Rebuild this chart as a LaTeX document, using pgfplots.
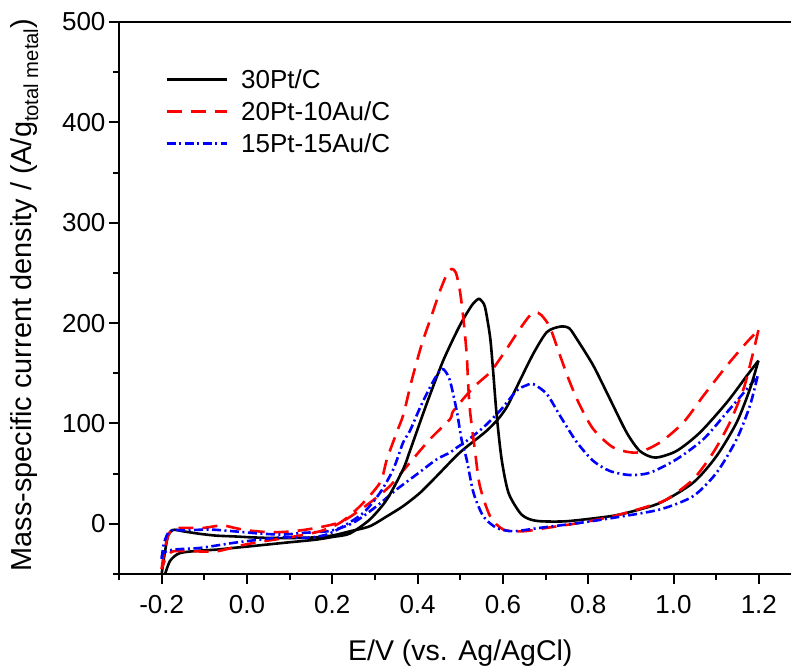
\documentclass[border=0pt]{standalone}
\usepackage{pgfplots}
\pgfplotsset{compat=1.18}
\usepackage{fontspec}
\setmainfont{Liberation Sans}
\begin{document}
\begin{tikzpicture}
\path[use as bounding box] (-119pt,-91pt) rectangle (672pt,574pt);
\begin{axis}[
  scale only axis,
  width=682.5pt, height=552pt,
  xmin=-0.3, xmax=1.3, ymin=-50, ymax=500,
  enlargelimits=false,
  axis line style={line width=2pt},
  tick align=outside,
  tick pos=left,
  major tick length=10pt, minor tick length=6pt,
  every tick/.style={line width=2pt, black},
  xtick={-0.2,0,0.2,0.4,0.6,0.8,1.0,1.2},
  xticklabels={-0.2,0.0,0.2,0.4,0.6,0.8,1.0,1.2},
  minor xtick={-0.3,-0.1,0.1,0.3,0.5,0.7,0.9,1.1,1.3},
  ytick={0,100,200,300,400,500},
  minor ytick={-50,50,150,250,350,450},
  /pgf/number format/assume math mode=true,
  ticklabel style={font=\fontsize{26}{31}\selectfont},
  xticklabel style={yshift=-8pt},
  every axis x label/.style={at={(axis description cs:0.5,0)}, anchor=base, yshift=-86pt, font=\fontsize{28.5}{34}\selectfont},
  every axis y label/.style={at={(axis description cs:0,0.5)}, rotate=90, anchor=base, yshift=87pt, xshift=3pt, font=\fontsize{28.9}{34}\selectfont},
  xlabel={E/V (vs. Ag/AgCl)},
  ylabel={Mass-specific current density / (A/g\textsubscript{total metal})},
  legend style={draw=none, fill=none, at={(axis description cs:0.0674,0.915)}, anchor=north west,
    font=\fontsize{26}{31}\selectfont, inner sep=0pt, column sep=13pt, row sep=8pt,
    nodes={inner sep=0pt, text height=19pt, text depth=5pt, anchor=base west}},
  legend cell align=left,
  legend image code/.code={\path[draw=none] (0pt,0pt) -- (60pt,0pt); \draw[#1] (0pt,9pt) -- (60pt,9pt);},
  legend image post style={line width=3pt},
  every axis plot/.append style={line width=2.6pt, line join=round, smooth, tension=0.45},
]
\addplot[black, solid] coordinates {
(-0.2,-50) (-0.193,-30) (-0.185,-12) (-0.173,-6) (-0.149,-7.5) (-0.11,-10) (-0.071,-11.8) (-0.032,-12.5) (0.007,-13.4) (0.046,-14) (0.085,-14.2) (0.124,-14) (0.163,-13.4) (0.202,-11.5) (0.241,-7.5) (0.288,-2.4) (0.33,8) (0.366,17.6) (0.406,31) (0.445,47.6) (0.499,71) (0.56,92) (0.59,105) (0.61,117) (0.632,136) (0.671,169.3) (0.703,191) (0.734,196.5) (0.755,195) (0.773,184.3) (0.812,157.6) (0.851,124.3) (0.890,91) (0.921,72.6) (0.957,66) (1.007,72.6) (1.062,91) (1.125,121) (1.172,147.6) (1.199,162.6)
};
\addlegendentry{30Pt/C}
\addplot[red, dash pattern=on 15pt off 9pt] coordinates {
(-0.2,-45) (-0.195,-30) (-0.185,-12) (-0.173,-5) (-0.14,-4) (-0.1,-4) (-0.059,-1.5) (-0.03,-4) (0.0,-6.4) (0.054,-8.4) (0.109,-7.4) (0.171,-3.4) (0.226,3) (0.288,21) (0.335,37.6) (0.382,61) (0.429,84.3) (0.476,104.3) (0.484,112.6) (0.531,136) (0.570,151) (0.601,169.3) (0.632,189.3) (0.66,206) (0.675,211) (0.69,208) (0.71,196) (0.734,167.6) (0.757,141) (0.781,117.6) (0.812,94.3) (0.859,76) (0.914,71) (0.968,81) (1.023,101) (1.07,127.6) (1.125,157.6) (1.172,181) (1.199,193)
};
\addlegendentry{20Pt-10Au/C}
\addplot[blue, dash pattern=on 9pt off 3.5pt on 2pt off 3.5pt] coordinates {
(-0.2,-35) (-0.195,-20) (-0.185,-9) (-0.173,-6) (-0.149,-6.5) (-0.087,-5.7) (-0.032,-7.4) (0.030,-9.7) (0.085,-10.7) (0.132,-9) (0.195,-7) (0.249,1) (0.304,17.6) (0.351,34.3) (0.398,49.3) (0.445,64.3) (0.476,71) (0.492,76) (0.515,82.6) (0.554,96) (0.593,112.6) (0.632,132.6) (0.655,138) (0.671,139.3) (0.703,129.3) (0.734,107.6) (0.773,81.5) (0.812,62.6) (0.851,52.6) (0.898,48.6) (0.945,51) (1.007,64.3) (1.070,84.3) (1.125,111) (1.172,134.3) (1.197,147)
};
\addlegendentry{15Pt-15Au/C}
\addplot[black, solid, forget plot] coordinates {
(1.199,162.6) (1.179,134.3) (1.148,101) (1.101,67.6) (1.046,41) (0.969,21) (0.9,12) (0.852,7.6) (0.75,2.6) (0.687,2.6) (0.66,5) (0.640,11) (0.613,31) (0.597,64.3) (0.585,110) (0.577,152.6) (0.570,186) (0.558,216) (0.548,223) (0.542,224) (0.527,217.6) (0.499,197.6) (0.460,162.6) (0.421,119.3) (0.382,72.6) (0.366,54.3) (0.328,24.3) (0.288,4.3) (0.241,-9.7) (0.202,-13) (0.163,-15.7) (0.124,-17.4) (0.085,-19) (0.046,-20.7) (0.007,-22.4) (-0.032,-24) (-0.071,-25.7) (-0.11,-26.7) (-0.149,-28.4) (-0.165,-30.7) (-0.181,-37.4) (-0.192,-50)
};
\addplot[red, dash pattern=on 15pt off 9pt, forget plot] coordinates {
(1.199,193) (1.183,164.3) (1.164,134.3) (1.132,101) (1.093,71) (1.046,44.3) (0.984,24.3) (0.937,17) (0.859,7.6) (0.781,1) (0.703,-4) (0.648,-7.4) (0.601,-5.7) (0.570,7.6) (0.546,37.6) (0.535,71) (0.523,112) (0.519,136) (0.515,169.3) (0.507,206) (0.499,232.6) (0.49,250) (0.480,254) (0.468,248) (0.453,232.6) (0.433,207.6) (0.410,179.3) (0.386,142.6) (0.367,109.3) (0.351,91) (0.328,64.3) (0.312,41) (0.265,17.6) (0.218,1) (0.171,-7.4) (0.101,-13.4) (0.038,-17.4) (-0.016,-21.7) (-0.071,-27.4) (-0.126,-27.4) (-0.173,-27.4) (-0.19,-34) (-0.2,-45)
};
\addplot[blue, dash pattern=on 9pt off 3.5pt on 2pt off 3.5pt, forget plot] coordinates {
(1.197,147) (1.179,117.6) (1.148,84.3) (1.101,51) (1.046,27.6) (0.968,14.3) (0.859,6) (0.781,1) (0.687,-4) (0.624,-7.4) (0.585,-4) (0.554,7.6) (0.531,31) (0.515,64.3) (0.503,84) (0.492,112) (0.476,142.6) (0.465,152) (0.457,154.3) (0.445,148) (0.429,136) (0.406,116) (0.382,92.6) (0.366,81) (0.343,54.3) (0.312,31) (0.273,11) (0.226,-2.4) (0.187,-10.7) (0.14,-14) (0.085,-13.4) (0.030,-15.7) (-0.032,-19) (-0.110,-24) (-0.173,-25.7) (-0.196,-29) (-0.2,-35)
};
\end{axis}
\end{tikzpicture}
\end{document}
